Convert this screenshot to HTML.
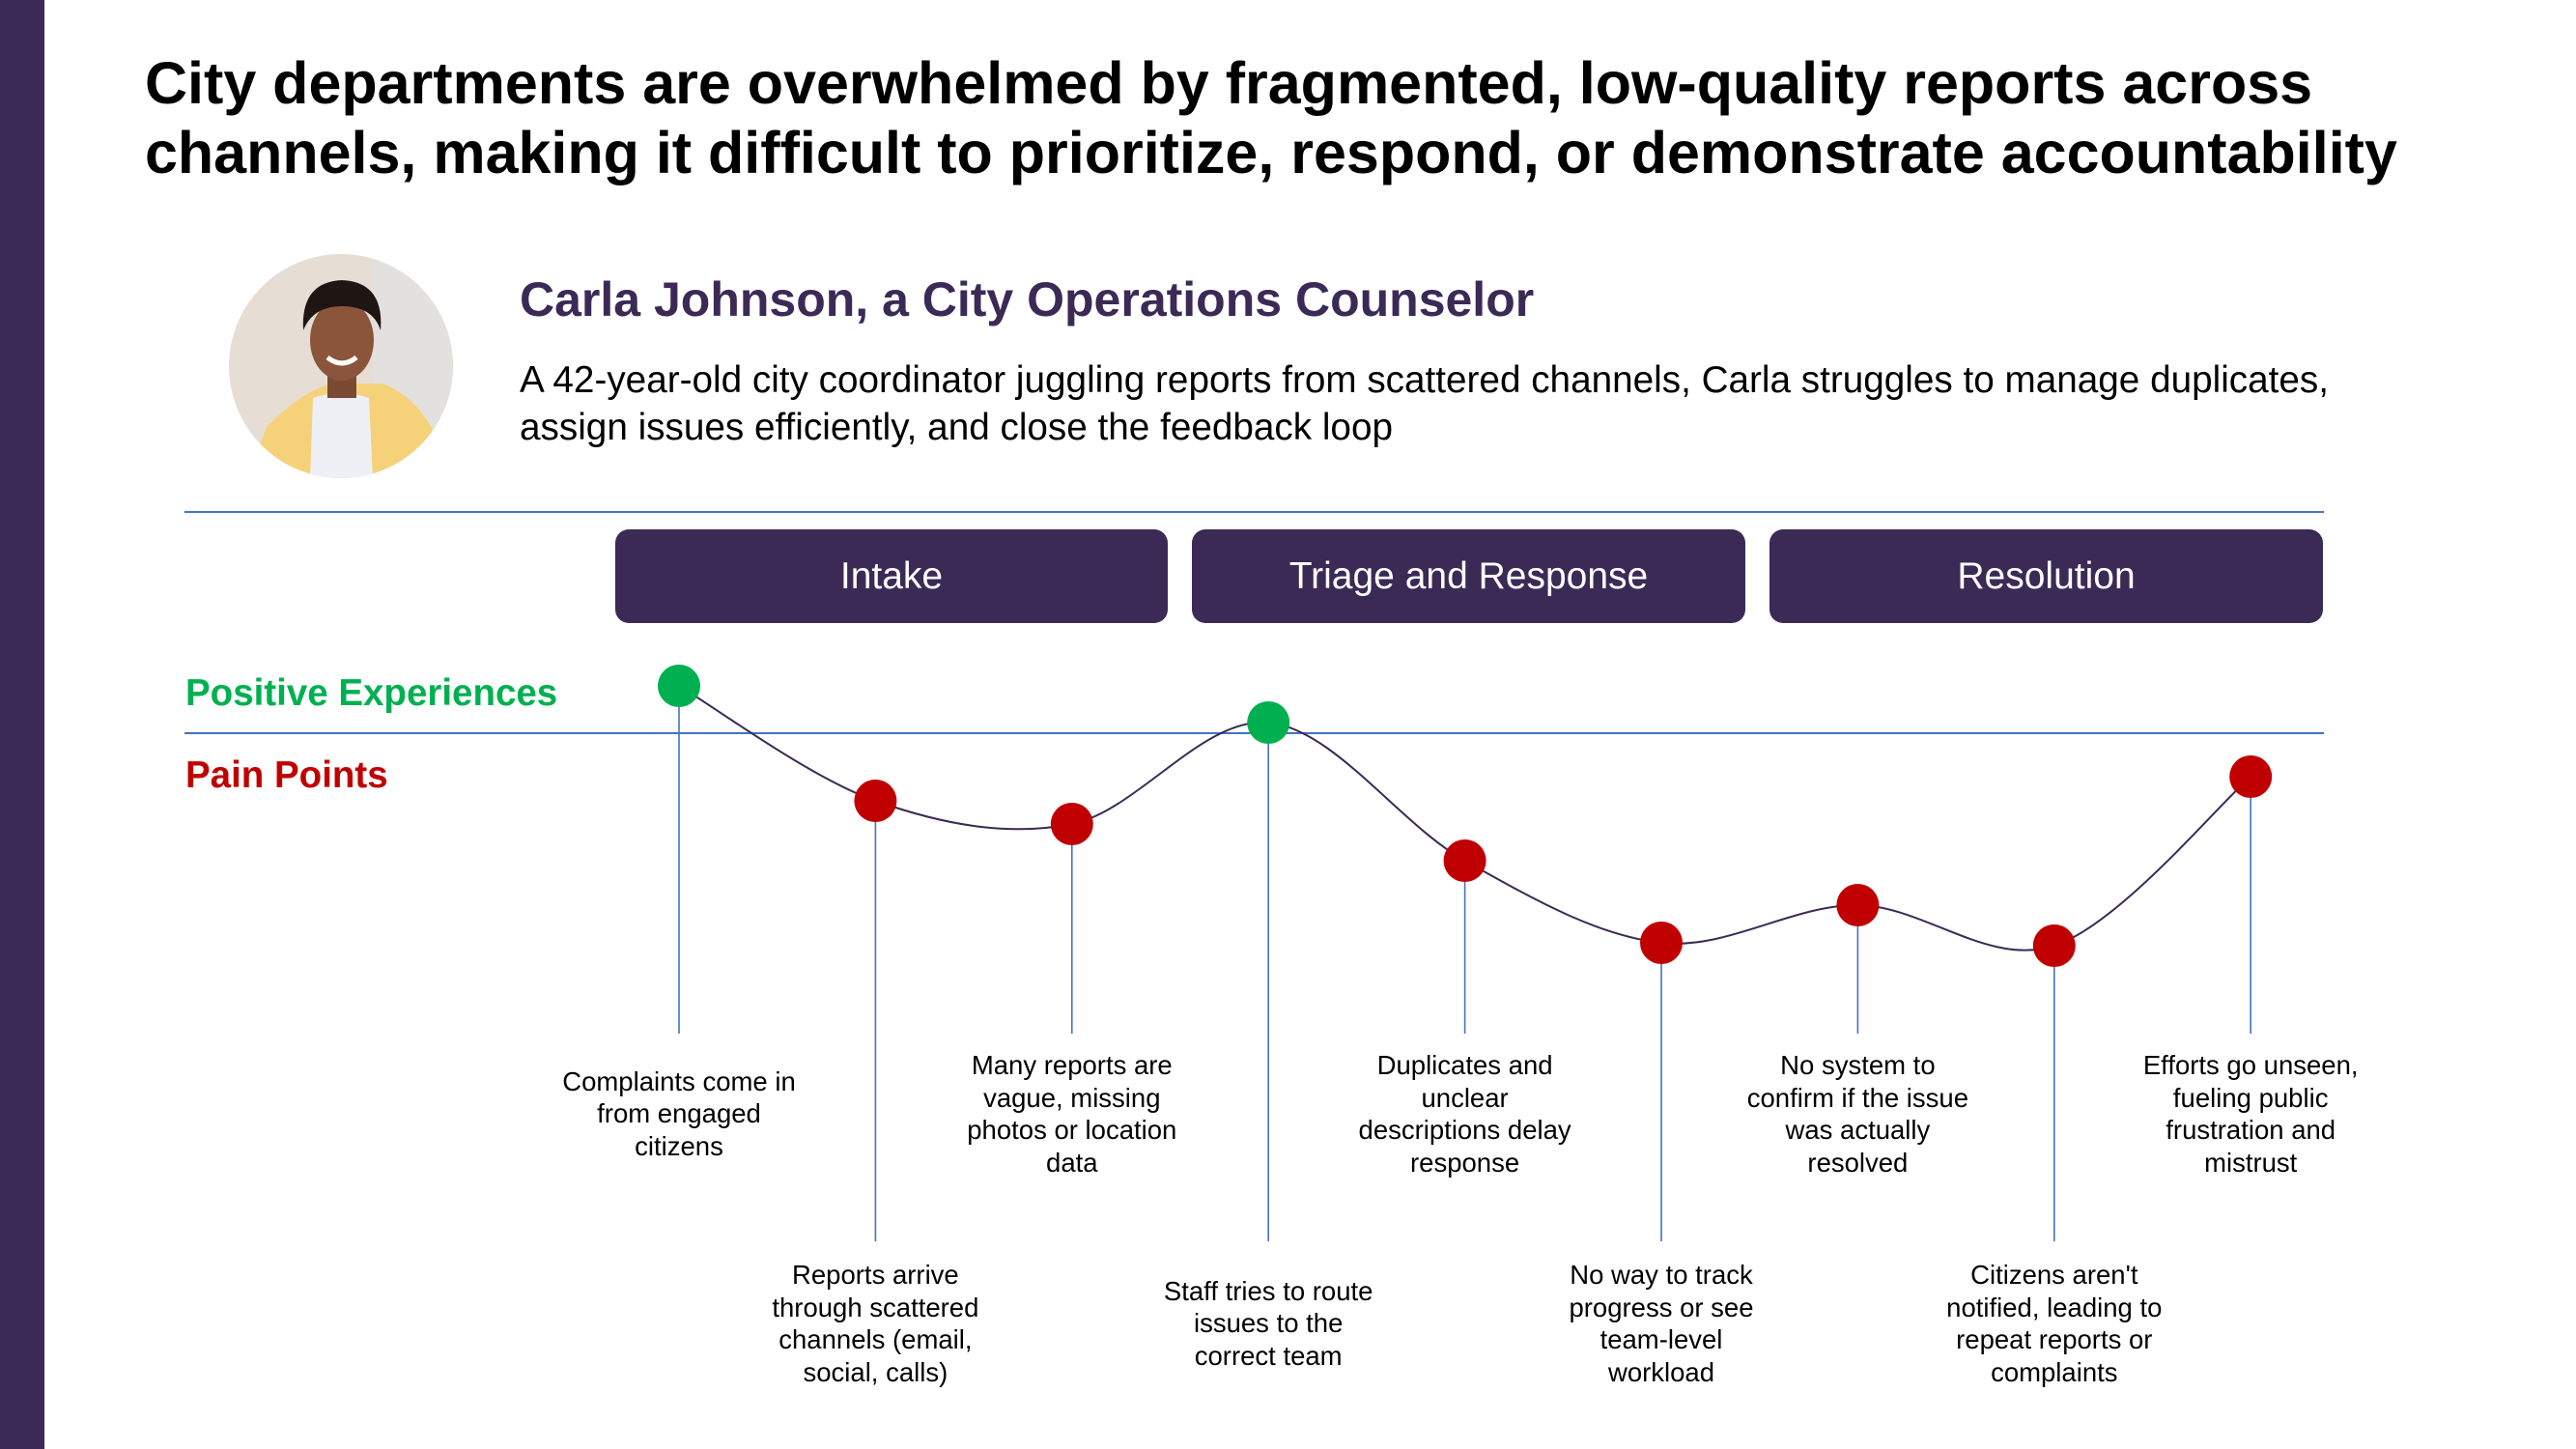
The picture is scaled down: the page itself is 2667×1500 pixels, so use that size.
<!DOCTYPE html>
<html>
<head>
<meta charset="utf-8">
<style>
  html,body{margin:0;padding:0;}
  body{width:2667px;height:1500px;position:relative;overflow:hidden;background:#fff;font-family:"Liberation Sans",Arial,sans-serif;}
  .abs{position:absolute;}
  #sidebar{left:0;top:0;width:46px;height:1500px;background:#3b2a56;}
  #title{left:150px;top:50px;width:2500px;font-size:61px;font-weight:bold;line-height:72px;color:#000;white-space:nowrap;}
  #name{left:538px;top:281px;font-size:50px;font-weight:bold;color:#3b2a56;white-space:nowrap;}
  #desc{left:538px;top:369px;font-size:38.7px;line-height:49px;color:#000;white-space:nowrap;}
  .phase{top:548px;height:97px;background:#3b2a56;border-radius:14px;color:#fff;font-size:39px;display:flex;align-items:center;justify-content:center;}
  .legend{left:192px;font-size:38.5px;font-weight:bold;}
  .lbl{font-size:27.5px;line-height:33.5px;text-align:center;color:#000;width:320px;margin-left:-160px;white-space:nowrap;}
</style>
</head>
<body>
<div id="sidebar" class="abs"></div>
<div id="title" class="abs">City departments are overwhelmed by fragmented, low-quality reports across<br>channels, making it difficult to prioritize, respond, or demonstrate accountability</div>

<svg class="abs" style="left:236px;top:262px" width="234" height="234">
  <defs><clipPath id="cp"><circle cx="117" cy="117" r="116"/></clipPath></defs>
  <g clip-path="url(#cp)">
    <rect width="234" height="234" fill="#e6ddd4"/>
    <rect x="150" width="84" height="234" fill="#e3e1df"/>
    <path d="M20 234 L40 180 Q80 140 110 135 L160 135 Q200 150 220 200 L234 234Z" fill="#f5d27a"/>
    <path d="M85 234 L88 150 Q117 140 146 150 L150 234Z" fill="#eef0f6"/>
    <rect x="103" y="120" width="30" height="30" fill="#7a4a33"/>
    <ellipse cx="118" cy="90" rx="33" ry="42" fill="#8a553b"/>
    <path d="M78 80 Q75 30 118 28 Q162 30 158 80 Q150 55 118 55 Q88 55 78 80Z" fill="#1e1613"/>
    <path d="M103 108 Q118 120 133 108" stroke="#fff" stroke-width="5" fill="none"/>
  </g>
</svg>

<div id="name" class="abs">Carla Johnson, a City Operations Counselor</div>
<div id="desc" class="abs">A 42-year-old city coordinator juggling reports from scattered channels, Carla struggles to manage duplicates,<br>assign issues efficiently, and close the feedback loop</div>

<div class="abs phase" style="left:637px;width:572px">Intake</div>
<div class="abs phase" style="left:1234px;width:573px">Triage and Response</div>
<div class="abs phase" style="left:1832px;width:573px">Resolution</div>

<div class="abs legend" style="top:696px;color:#00b050">Positive Experiences</div>
<div class="abs legend" style="top:781px;color:#c00000">Pain Points</div>

<svg id="chart" class="abs" style="left:0;top:0" width="2667" height="1500">
  <line x1="191" y1="530" x2="2406" y2="530" stroke="#4472c4" stroke-width="2"/>
  <line x1="191" y1="759" x2="2406" y2="759" stroke="#4472c4" stroke-width="2"/>
  <g id="stems"></g>
  <path id="curve" fill="none" stroke="#3b2a56" stroke-width="2"/>
  <g id="dots"></g>
</svg>
<div id="labels"></div>

<script>
const stepIndex = [0, 1, 2, 3, 4, 5, 6, 7, 8];
const sentiment = [0.98, -1.40, -1.88, 0.22, -2.64, -4.34, -3.56, -4.40, -0.90];
const isPositive = [true, false, false, true, false, false, false, false, false];
const stepLabels = [
  "Complaints come in<br>from engaged<br>citizens",
  "Reports arrive<br>through scattered<br>channels (email,<br>social, calls)",
  "Many reports are<br>vague, missing<br>photos or location<br>data",
  "Staff tries to route<br>issues to the<br>correct team",
  "Duplicates and<br>unclear<br>descriptions delay<br>response",
  "No way to track<br>progress or see<br>team-level<br>workload",
  "No system to<br>confirm if the issue<br>was actually<br>resolved",
  "Citizens aren't<br>notified, leading to<br>repeat reports or<br>complaints",
  "Efforts go unseen,<br>fueling public<br>frustration and<br>mistrust"
];

function xScale(i){ return 703 + i * 203.4; }
function yScale(v){ return 759 - v * 50; }

const NS = "http://www.w3.org/2000/svg";
const pts = stepIndex.map((s, k) => [xScale(s), yScale(sentiment[k])]);

let d = "M" + pts[0][0] + " " + pts[0][1];
for (let k = 0; k < pts.length - 1; k++) {
  const p0 = pts[Math.max(0, k - 1)], p1 = pts[k], p2 = pts[k + 1], p3 = pts[Math.min(pts.length - 1, k + 2)];
  const t = 1 / 3;
  const c1 = [p1[0] + (p2[0] - p0[0]) * t / 2, p1[1] + (p2[1] - p0[1]) * t / 2];
  const c2 = [p2[0] - (p3[0] - p1[0]) * t / 2, p2[1] - (p3[1] - p1[1]) * t / 2];
  d += " C" + c1[0] + " " + c1[1] + " " + c2[0] + " " + c2[1] + " " + p2[0] + " " + p2[1];
}
document.getElementById("curve").setAttribute("d", d);

const stems = document.getElementById("stems");
const dots = document.getElementById("dots");
const labels = document.getElementById("labels");
pts.forEach((p, k) => {
  const upper = k % 2 === 0;
  const ln = document.createElementNS(NS, "line");
  ln.setAttribute("x1", p[0]); ln.setAttribute("x2", p[0]);
  ln.setAttribute("y1", p[1]); ln.setAttribute("y2", upper ? 1070 : 1285);
  ln.setAttribute("stroke", "#4472c4"); ln.setAttribute("stroke-width", "1.6");
  
  
  stems.appendChild(ln);

  const c = document.createElementNS(NS, "circle");
  c.setAttribute("cx", p[0]); c.setAttribute("cy", p[1]); c.setAttribute("r", 22);
  c.setAttribute("fill", isPositive[k] ? "#00b050" : "#c00000");
  
  
  dots.appendChild(c);

  const lb = document.createElement("div");
  lb.className = "abs lbl";
  lb.innerHTML = stepLabels[k];
  const nLines = stepLabels[k].split("<br>").length;
  const center = upper ? 1153 : 1370;
  lb.style.left = p[0] + "px";
  lb.style.top = (center - nLines * 33.5 / 2) + "px";
  
  
  labels.appendChild(lb);
});
</script>
</body>
</html>
